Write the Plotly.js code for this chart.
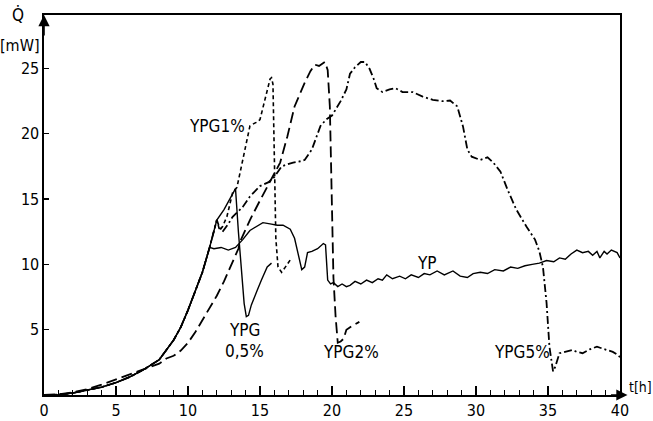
<!DOCTYPE html>
<html>
<head>
<meta charset="utf-8">
<script src="https://cdn.plot.ly/plotly-3.0.1.min.js"></script>
<style>html,body{margin:0;padding:0;background:#fff;}#chart{width:653px;height:421px;}</style>
</head>
<body>
<div id="chart"></div>
<script>
// ---- data (t in hours, Q in mW) ----
const ypT = [0,1,2,3,4,5,6,7,8,9,9.5,10,10.5,11,11.5,11.8,12.3,12.8,13.3,13.8,14.3,14.8,15.2,15.7,16.2,16.6,17.1,17.4,17.7,17.9,18.1,18.3,18.6,19.0,19.4,19.55,19.7,19.9,20.1,20.4,20.7,21.0,21.25,21.6,22.0,22.4,22.8,23.2,23.5,23.8,24.2,24.7,25.1,25.5,26.0,26.4,26.8,27.3,27.8,28.4,28.9,29.4,29.8,30.3,30.8,31.3,31.9,32.4,32.9,33.4,33.9,34.4,34.9,35.4,35.8,36.2,36.6,37.0,37.4,37.8,38.1,38.4,38.6,38.9,39.1,39.4,39.8,40.0];
const ypQ = [0,0.03,0.15,0.35,0.6,0.95,1.4,2.0,2.7,4.2,5.2,6.5,7.9,9.4,11.3,11.2,11.3,11.1,11.3,11.9,12.6,12.9,13.2,13.1,13.0,13.0,12.7,12.0,10.5,9.6,9.8,10.9,11.0,11.2,11.6,11.5,8.8,8.5,8.6,8.3,8.5,8.3,8.4,8.7,8.5,8.8,8.6,8.9,8.8,9.2,8.9,9.1,8.9,9.2,9.0,9.3,9.2,9.5,9.2,9.5,9.1,9.0,9.3,9.4,9.3,9.6,9.5,9.8,9.7,9.9,10.0,10.1,10.3,10.2,10.5,10.4,10.8,11.1,10.9,11.0,10.7,11.0,10.5,11.0,10.8,11.1,10.9,10.5];

const g05T = [0,1,2,3,4,5,6,7,8,9,9.5,10,10.5,11,11.5,12.0,12.5,13.0,13.3,13.5,13.7,13.9,14.05,14.2,14.4,14.6,14.8,15.1,15.5,15.8];
const g05Q = [0,0.03,0.15,0.35,0.6,0.95,1.4,2.0,2.7,4.2,5.2,6.5,7.9,9.4,11.3,13.4,14.2,15.2,15.8,12.5,9.5,7.0,6.0,6.1,6.9,7.5,8.0,8.8,9.8,10.1];

const g1T = [0,1,2,3,4,5,6,7,8,9,9.5,10,10.5,11,11.5,12.0,12.2,12.4,12.7,13.1,13.4,13.8,14.1,14.3,14.6,14.8,15.0,15.3,15.5,15.7,15.8,15.9,16.0,16.1,16.25,16.5,16.7,16.9,17.2];
const g1Q = [0,0.03,0.15,0.35,0.6,0.95,1.4,2.0,2.7,4.2,5.2,6.5,7.9,9.4,11.3,13.4,12.6,12.9,13.65,15.5,15.9,18.0,19.6,20.6,20.8,20.9,21.1,22.5,23.4,24.2,24.3,23.8,18.0,12.0,9.8,9.4,9.7,10.0,10.5];

const g2T = [0,1,2,3,4,5,6,7,7.5,8,8.5,9,9.5,10,10.5,11,11.5,12,12.5,13,13.5,13.6,14.3,15.0,15.7,16.4,16.9,17.4,18.1,18.5,18.8,19.1,19.5,19.7,19.85,19.95,20.1,20.25,20.4,20.6,20.8,21.0,21.4,21.9];
const g2Q = [0,0.05,0.2,0.45,0.8,1.2,1.6,2.0,2.2,2.4,2.8,3.0,3.4,4.0,4.8,5.7,6.6,7.6,8.7,9.9,11.2,11.7,13.4,14.9,16.3,17.8,19.8,22.1,23.9,24.8,25.3,25.2,25.5,24.9,22.1,16.0,9.0,6.0,4.0,4.1,4.3,5.0,5.3,5.6];

const g5T = [0,1,2,3,4,5,6,7,8,9,9.5,10,10.5,11,11.5,12.0,12.2,12.4,12.8,13.1,13.8,14.3,15.0,15.6,16.0,16.5,17.0,17.3,17.8,18.1,18.6,19.2,19.6,20.0,20.6,21.0,21.25,21.6,22.0,22.3,22.6,22.9,23.1,23.5,24.0,24.4,24.9,25.6,26.3,27.0,27.7,28.2,28.7,29.1,29.4,29.7,30.3,30.8,31.2,31.7,32.2,32.8,33.5,34.1,34.4,34.65,34.9,35.1,35.35,35.5,35.8,36.2,36.7,37.0,37.4,37.9,38.4,38.8,39.1,39.5,39.8,40.0];
const g5Q = [0,0.03,0.15,0.35,0.6,0.95,1.4,2.0,2.7,4.2,5.2,6.5,7.9,9.4,11.3,13.4,12.8,12.5,13.1,13.65,14.4,15.2,16.0,16.3,16.7,17.5,17.7,17.8,17.9,18.0,18.8,20.6,21.1,21.4,22.5,23.4,24.6,25.1,25.5,25.5,25.0,24.2,23.5,23.2,23.4,23.5,23.2,23.2,22.85,22.6,22.5,22.55,22.1,20.55,18.8,18.25,18.0,18.2,17.8,17.1,15.7,14.2,12.9,11.9,11.0,9.8,7.05,3.7,1.8,2.15,3.2,3.3,3.45,3.3,3.2,3.5,3.7,3.55,3.45,3.3,3.1,2.9];

const xTicks = [0,5,10,15,20,25,30,35,40];
const yTicks = [5,10,15,20,25];

const curveLabels = [
  {text:'YPG1%', t:12.0, q:20.6},
  {text:'YP', t:26.6, q:10.1},
  {text:'YPG', t:13.9, q:5.0},
  {text:'0,5%', t:13.95, q:3.4},
  {text:'YPG2%', t:21.3, q:3.3},
  {text:'YPG5%', t:33.2, q:3.3}
];

const FONT = 'DejaVu Sans Condensed, Liberation Sans Narrow, DejaVu Sans, sans-serif';
function tr(x, y, dash, w, name){
  return {x:x, y:y, type:'scatter', mode:'lines', name:name,
    line:{color:'#000', width:w, dash:dash}, hoverinfo:'skip'};
}
const traces = [
  tr(ypT, ypQ, 'solid', 1.4, 'YP'),
  tr(g05T, g05Q, 'solid', 1.4, 'YPG 0,5%'),
  tr(g1T, g1Q, '4px,3px', 1.6, 'YPG1%'),
  tr(g2T, g2Q, '11px,5px', 1.8, 'YPG2%'),
  tr(g5T, g5Q, '8px,3px,2px,3px', 1.8, 'YPG5%')
];

const annotations = curveLabels.map(l => ({
  x:l.t, y:l.q, xref:'x', yref:'y', text:l.text, showarrow:false,
  font:{family:FONT, size:17, color:'#000'}, xanchor:'center', yanchor:'middle'
}));
// axis arrows
annotations.push({x:0, y:1, xref:'paper', yref:'paper', ax:0, ay:22, showarrow:true,
  arrowhead:2, arrowsize:1.4, arrowwidth:1.6, arrowcolor:'#000', text:''});
annotations.push({x:1.013, y:0, xref:'paper', yref:'paper', ax:-18, ay:0, showarrow:true,
  arrowhead:2, arrowsize:1.4, arrowwidth:1.6, arrowcolor:'#000', text:''});
// axis titles
annotations.push({x:-0.045, y:1.0, xref:'paper', yref:'paper', text:'Q\u0307', showarrow:false,
  font:{family:FONT, size:17, color:'#000'}, xanchor:'center', yanchor:'middle'});
annotations.push({x:-0.042, y:0.92, xref:'paper', yref:'paper', text:'[mW]', showarrow:false,
  font:{family:FONT, size:16, color:'#000'}, xanchor:'center', yanchor:'middle'});
annotations.push({x:1.013, y:0.02, xref:'paper', yref:'paper', text:'t[h]', showarrow:false,
  font:{family:FONT, size:14, color:'#000'}, xanchor:'left', yanchor:'middle'});

const layout = {
  width:653, height:421,
  margin:{l:44, r:33, t:15, b:26, pad:0},
  paper_bgcolor:'#fff', plot_bgcolor:'#fff',
  showlegend:false,
  font:{family:FONT, size:16, color:'#000'},
  xaxis:{range:[0,40], tickvals:xTicks, ticktext:xTicks.map(String),
    ticks:'inside', ticklen:9, tickwidth:1.3, tickcolor:'#000',
    minor:{dtick:1, tick0:0, ticks:'inside', ticklen:5, tickwidth:1.1, tickcolor:'#000', showgrid:false},
    showline:true, linecolor:'#000', linewidth:1.6, mirror:true,
    showgrid:false, zeroline:false, fixedrange:true,
    tickfont:{family:FONT, size:16, color:'#000'}},
  yaxis:{range:[0,29.1], tickvals:yTicks, ticktext:yTicks.map(String),
    ticks:'inside', ticklen:5, tickwidth:1.3, tickcolor:'#000',
    showline:true, linecolor:'#000', linewidth:1.6, mirror:true,
    showgrid:false, zeroline:false, fixedrange:true,
    tickfont:{family:FONT, size:16, color:'#000'}},
  annotations:annotations
};

Plotly.newPlot('chart', traces, layout, {staticPlot:true, displayModeBar:false});
</script>
</body>
</html>
